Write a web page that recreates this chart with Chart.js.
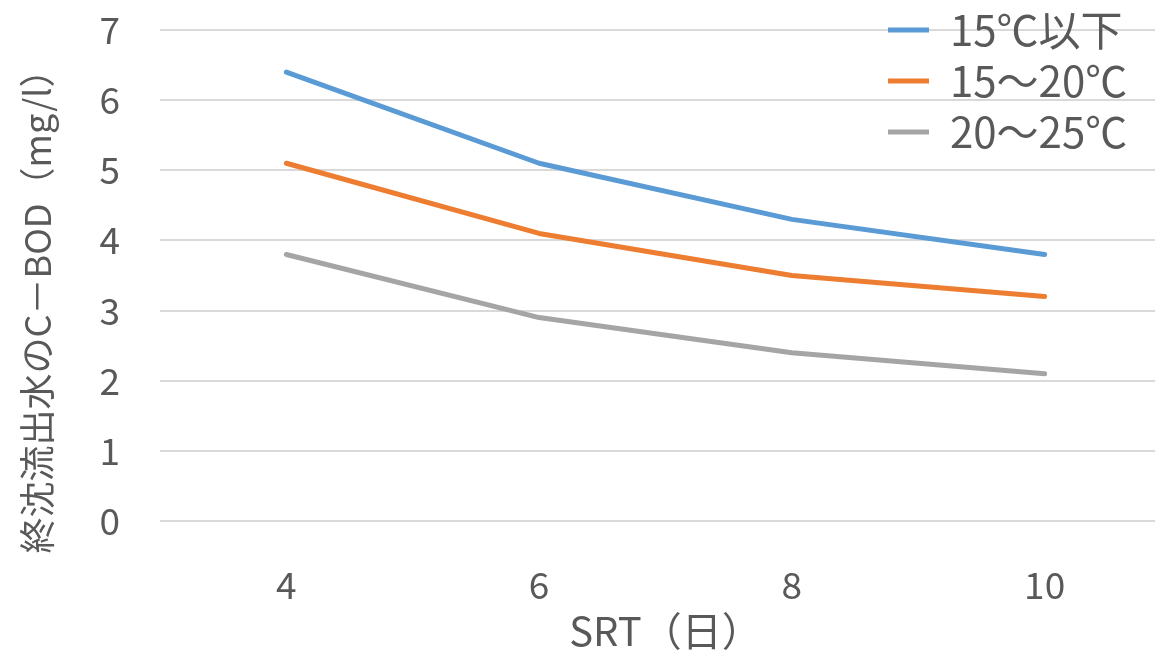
<!DOCTYPE html>
<html>
<head>
<meta charset="utf-8">
<script src="https://cdn.jsdelivr.net/npm/chart.js@4"></script>
<style>
  html, body { margin: 0; padding: 0; background: #fff; overflow: hidden; }
  #wrap { width: 1155px; height: 657px; overflow: hidden; }
</style>
</head>
<body>
<div id="wrap"><canvas id="c" width="1180" height="657"></canvas></div>
<script>
// SRT (days) on x, effluent C-BOD (mg/l) on y
const srtDays = ['4', '6', '8', '10'];
const below15 = [6.4, 5.1, 4.3, 3.8];
const from15to20 = [5.1, 4.1, 3.5, 3.2];
const from20to25 = [3.8, 2.9, 2.4, 2.1];
const seriesNames = ['15℃以下', '15～20℃', '20～25℃'];
const seriesColors = ['#5b9bd5', '#ed7d31', '#a5a5a5'];

const FONT = '"Noto Sans CJK JP", "Noto Sans", sans-serif';
const TXT = '#595959';

// legend sits over the top right of the plot, like the excel original
const legendSpot = {
  id: 'legendSpot',
  afterLayout(chart) {
    const lg = chart.legend;
    lg.left = 879;
    lg.right = lg.left + lg.width;
    lg.top = 0;
    lg.bottom = lg.top + lg.height;
  }
};

const ds = (label, data, color) => ({
  label: label,
  data: data,
  borderColor: color,
  backgroundColor: color,
  borderWidth: 5,
  pointRadius: 0,
  tension: 0,
  borderJoinStyle: 'round',
  borderCapStyle: 'round',
  fill: false
});

new Chart(document.getElementById('c'), {
  type: 'line',
  data: {
    labels: srtDays,
    datasets: [
      ds(seriesNames[0], below15, seriesColors[0]),
      ds(seriesNames[1], from15to20, seriesColors[1]),
      ds(seriesNames[2], from20to25, seriesColors[2])
    ]
  },
  options: {
    responsive: false,
    animation: false,
    layout: { padding: { top: 30, right: 9, bottom: 0, left: 0 } },
    plugins: {
      tooltip: { enabled: false },
      legend: {
        position: 'chartArea',
        align: 'start',
        labels: {
          usePointStyle: true,
          pointStyle: 'line',
          pointStyleWidth: 41,
          padding: 9,
          color: TXT,
          font: { family: FONT, size: 42 }
        }
      }
    },
    scales: {
      x: {
        offset: true,
        grid: { display: false, drawTicks: false },
        border: { display: false },
        ticks: { color: TXT, padding: 42, font: { family: FONT, size: 37 } },
        title: {
          display: true,
          text: 'SRT（日）',
          color: TXT,
          padding: { top: 0, bottom: 2 },
          font: { family: FONT, size: 40 }
        },
        afterFit: (s) => { s.height = 136; s.paddingLeft = 0; s.paddingRight = 0; }
      },
      y: {
        min: 0,
        max: 7,
        grid: { color: '#d9d9d9', lineWidth: 2, drawTicks: false },
        border: { display: false },
        ticks: { stepSize: 1, color: TXT, padding: 40, font: { family: FONT, size: 37 } },
        title: {
          display: true,
          // two trailing ideographic spaces push the centred title down a bit
          text: '終沈流出水のC－BOD（mg/l）\u3000\u3000',
          color: TXT,
          padding: { top: 16, bottom: 0 },
          font: { family: FONT, size: 36 }
        },
        afterFit: (s) => { s.width = 160; s.paddingTop = 0; s.paddingBottom = 0; }
      }
    }
  },
  plugins: [legendSpot]
});
</script>
</body>
</html>
